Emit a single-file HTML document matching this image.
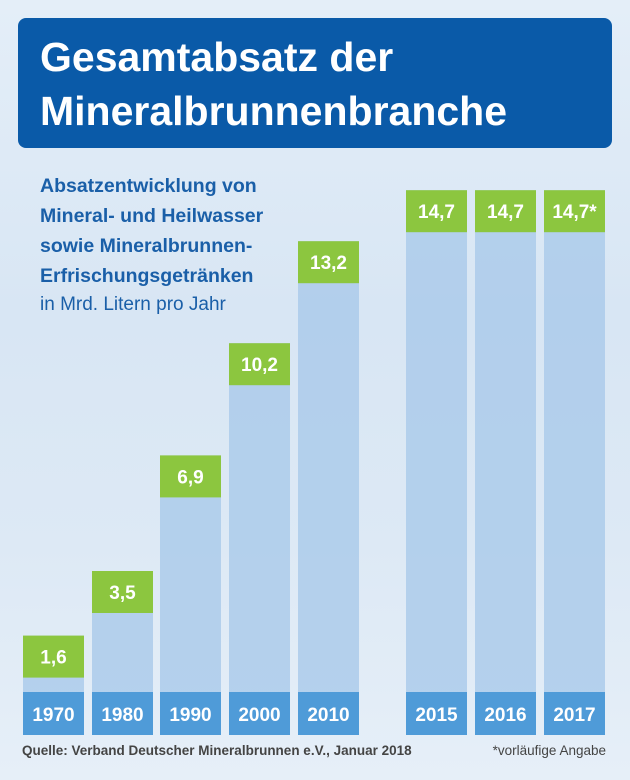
<!DOCTYPE html>
<html><head><meta charset="utf-8"><style>
body{margin:0;width:630px;height:780px;overflow:hidden;font-family:"Liberation Sans",sans-serif;}
#bg{position:absolute;left:0;top:0;width:630px;height:780px;background:linear-gradient(180deg,#e4eef8 0%,#d8e6f4 40%,#dde9f5 70%,#e6eff8 100%);}
#title{position:absolute;left:18px;top:18px;width:594px;height:130px;background:#0a5aa8;border-radius:8px;color:#fff;font-weight:bold;font-size:41px;line-height:54px;box-sizing:border-box;padding:12px 0 0 22px;}
.sub{position:absolute;left:40px;color:#1a5fa8;font-weight:bold;font-size:19.5px;}
</style></head><body>
<div id="bg"></div>
<div id="title">Gesamtabsatz der<br>Mineralbrunnenbranche</div>
<div class="sub" style="top:171px;line-height:30px">Absatzentwicklung von<br>Mineral- und Heilwasser<br>sowie Mineralbrunnen-<br>Erfrischungsgetränken</div>
<div class="sub" style="top:294px;font-weight:normal;font-size:19px">in Mrd. Litern pro Jahr</div>
<svg id="chart" width="630" height="780" style="position:absolute;left:0;top:0"></svg>
<div style="position:absolute;left:22px;top:743px;font-size:13.5px;font-weight:bold;color:#444">Quelle: Verband Deutscher Mineralbrunnen e.V., Januar 2018</div>
<div style="position:absolute;right:24px;top:743px;font-size:13.5px;color:#444">*vorläufige Angabe</div>
<script>
const years=["1970","1980","1990","2000","2010","2015","2016","2017"];
const values=[1.6,3.5,6.9,10.2,13.2,14.7,14.7,14.7];
const labels=["1,6","3,5","6,9","10,2","13,2","14,7","14,7","14,7*"];
const xLeft=[23,92,160,229,298,406,475,544];
const NS="http://www.w3.org/2000/svg";
const svg=document.getElementById('chart');
function y(v){return 690-v*34;}
function mk(t,a){const e=document.createElementNS(NS,t);for(const k in a)e.setAttribute(k,a[k]);svg.appendChild(e);return e;}
const W=61;
years.forEach((yr,i)=>{
  const x=xLeft[i],top=y(values[i]);
  const bar=mk('rect',{x:x,y:top,width:W,height:692-top,fill:'#a9c9ea',opacity:0.8});
  
  
  const g=mk('rect',{x:x,y:top,width:W,height:42,fill:'#8cc63f'});
  
  
  const t=mk('text',{x:x+W/2,y:top+28,'text-anchor':'middle',fill:'#fff','font-size':19,'font-weight':'bold','font-family':'Liberation Sans, sans-serif'});
  t.textContent=labels[i];
  
  
  const yb=mk('rect',{x:x,y:692,width:W,height:43,fill:'#4f9bd8'});
  
  
  const yt=mk('text',{x:x+W/2,y:721,'text-anchor':'middle',fill:'#fff','font-size':19,'font-weight':'bold','font-family':'Liberation Sans, sans-serif'});
  yt.textContent=yr;
  
  
});
</script>
</body></html>
